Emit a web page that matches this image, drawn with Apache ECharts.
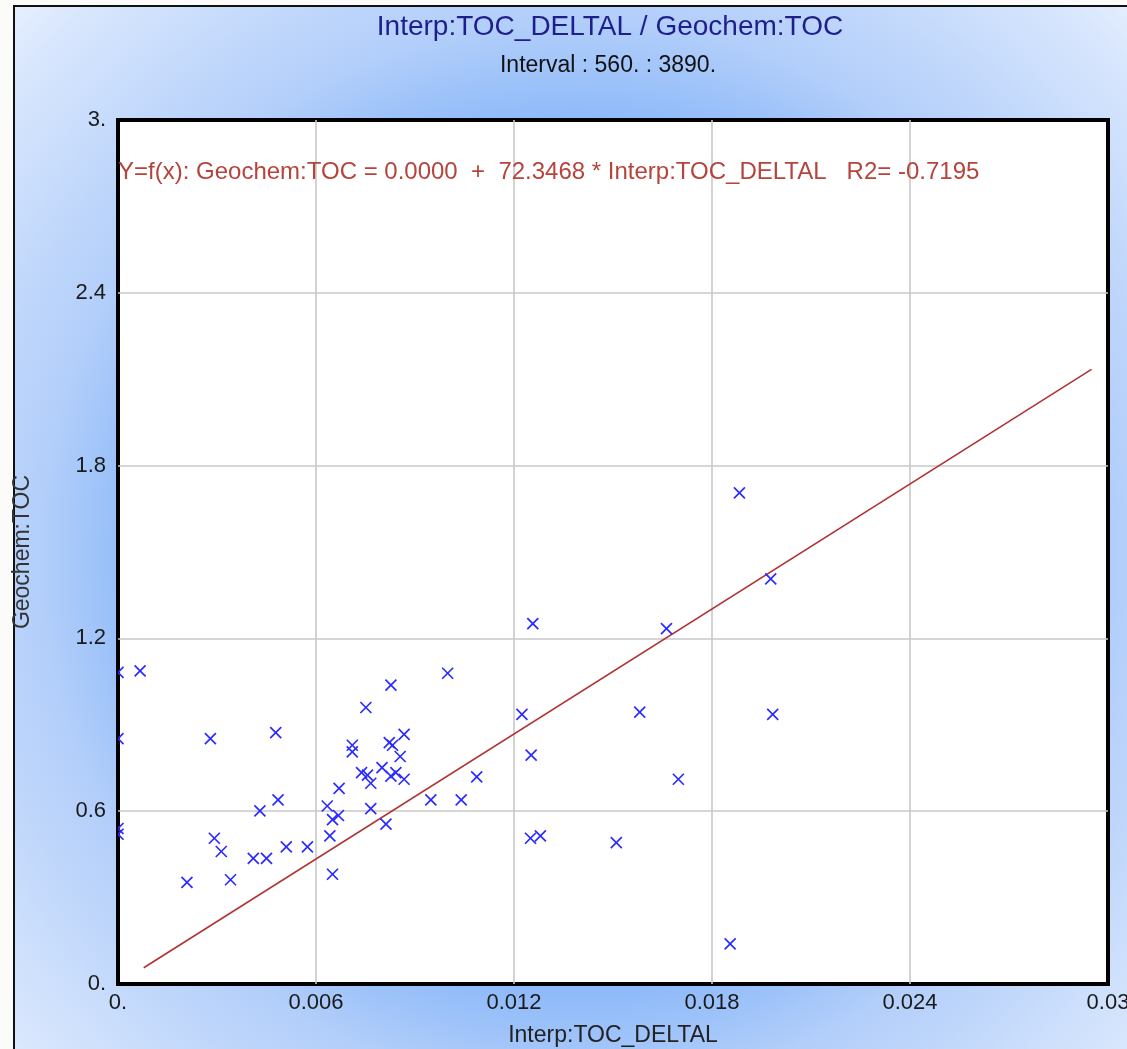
<!DOCTYPE html>
<html>
<head>
<meta charset="utf-8">
<title>Interp:TOC_DELTAL / Geochem:TOC</title>
<script src="https://cdn.jsdelivr.net/npm/echarts@6/dist/echarts.min.js"></script>
<style>
  html, body { margin: 0; padding: 0; background: #fbfbf9; }
  #chart { width: 1127px; height: 1049px; }
</style>
</head>
<body>
<div id="chart"></div>
<script>
// Cross-plot samples: Interp:TOC_DELTAL (x) against Geochem:TOC (y)
const tocDelta = [
  0, 0, 0, 0, 0.00067, 0.00209, 0.0028, 0.00292, 0.00313, 0.00341,
  0.0041, 0.0043, 0.0045, 0.00478, 0.00485, 0.0051, 0.00574, 0.00634, 0.00642, 0.0065,
  0.0065, 0.00668, 0.0067, 0.0071, 0.0071, 0.00738, 0.00751, 0.00756, 0.00766, 0.00766,
  0.008, 0.00812, 0.00822, 0.00827, 0.00827, 0.00832, 0.00842, 0.00855, 0.00867, 0.00867,
  0.00948, 0.00999, 0.0104, 0.01087, 0.01224, 0.0125, 0.01252, 0.01257, 0.0128, 0.0151,
  0.01581, 0.01662, 0.01698, 0.01855, 0.01883, 0.01978, 0.01984
];
const geochemToc = [
  1.082, 0.852, 0.540, 0.520, 1.087, 0.353, 0.852, 0.506, 0.460, 0.362,
  0.436, 0.601, 0.436, 0.873, 0.639, 0.476, 0.476, 0.618, 0.514, 0.571,
  0.381, 0.585, 0.679, 0.829, 0.806, 0.734, 0.960, 0.725, 0.697, 0.609,
  0.751, 0.555, 0.838, 1.038, 0.722, 0.829, 0.734, 0.790, 0.867, 0.711,
  0.639, 1.079, 0.639, 0.719, 0.936, 0.506, 0.795, 1.251, 0.514, 0.491,
  0.944, 1.234, 0.711, 0.139, 1.705, 1.407, 0.936
];

// Regression Y = intercept + slope * X, drawn over this X span
const fitIntercept = 0.0;
const fitSlope = 72.3468;
const fitR2 = -0.7195;
const fitXRange = [0.00078, 0.0295];

// Axis ticks
const xTickLabels = ['0.', '0.006', '0.012', '0.018', '0.024', '0.03'];
const yTickLabels = ['0.', '0.6', '1.2', '1.8', '2.4', '3.'];
const xStep = 0.006, yStep = 0.6;

const titleText = 'Interp:TOC_DELTAL / Geochem:TOC';
const subtitleText = 'Interval : 560. : 3890.';
const equationText = 'Y=f(x): Geochem:TOC = ' + fitIntercept.toFixed(4) + '  +  ' +
  fitSlope.toFixed(4) + ' * Interp:TOC_DELTAL   R2= ' + fitR2.toFixed(4);

const FONT = '"Liberation Sans", Arial, sans-serif';

const points = tocDelta.map((x, i) => [x, geochemToc[i]]);
const fitLine = fitXRange.map(x => [x, fitIntercept + fitSlope * x]);

const chart = echarts.init(document.getElementById('chart'), null, { renderer: 'canvas' });

const gridLines = {
  show: true, showMinLine: false, showMaxLine: false,
  lineStyle: { color: '#c8c8c8', width: 1.6 }
};

chart.setOption({
  animation: false,
  backgroundColor: '#fbfbf9',
  grid: {
    left: 118, right: 19, top: 120, bottom: 65,
    outerBoundsMode: 'none',
    containLabel: false,
    show: true,
    backgroundColor: '#ffffff',
    borderColor: '#000000',
    borderWidth: 4
  },
  xAxis: {
    type: 'value', min: 0, max: 0.03, interval: xStep,
    name: 'Interp:TOC_DELTAL', nameLocation: 'middle', nameGap: 40,
    nameTextStyle: { fontSize: 23, color: '#222', fontFamily: FONT },
    axisLine: { show: false }, axisTick: { show: false },
    axisLabel: {
      margin: 8, fontSize: 22, color: '#1a1a1a', fontFamily: FONT,
      formatter: v => xTickLabels[Math.round(v / xStep)]
    },
    splitLine: gridLines
  },
  yAxis: {
    type: 'value', min: 0, max: 3, interval: yStep,
    name: 'Geochem:TOC', nameLocation: 'middle', nameGap: 84,
    nameTextStyle: { fontSize: 23, color: '#333', fontFamily: FONT },
    axisLine: { show: false }, axisTick: { show: false },
    axisLabel: {
      margin: 12, fontSize: 22, color: '#1a1a1a', fontFamily: FONT,
      formatter: v => yTickLabels[Math.round(v / yStep)]
    },
    splitLine: gridLines
  },
  graphic: [
    {
      type: 'rect', z: -10, silent: true,
      shape: { x: 14, y: 6, width: 1200, height: 1100 },
      style: {
        fill: {
          type: 'radial', x: 0.47, y: 0.5, r: 0.76,
          colorStops: [
            { offset: 0, color: '#5a95fb' },
            { offset: 0.52, color: '#8ebaf9' },
            { offset: 0.64, color: '#b2cefa' },
            { offset: 0.88, color: '#d9e7fd' },
            { offset: 1, color: '#f2f7ff' }
          ]
        },
        stroke: '#111111', lineWidth: 2
      }
    },
    {
      type: 'text', z: 100, x: 610, y: 27,
      style: {
        text: titleText, fill: '#1f1f8c', font: '28px ' + FONT,
        textAlign: 'center', textVerticalAlign: 'middle'
      }
    },
    {
      type: 'text', z: 100, x: 608, y: 66,
      style: {
        text: subtitleText, fill: '#111111', font: '23px ' + FONT,
        textAlign: 'center', textVerticalAlign: 'middle'
      }
    },
    {
      type: 'text', z: 100, x: 118, y: 172,
      style: {
        text: equationText, fill: '#b5443c', font: '24px ' + FONT,
        textAlign: 'left', textVerticalAlign: 'middle'
      }
    }
  ],
  series: [
    {
      name: 'Fit', type: 'line', data: fitLine,
      showSymbol: false, clip: true, z: 3,
      lineStyle: { color: '#b03434', width: 1.6 }
    },
    {
      name: 'Samples', type: 'custom', data: points, clip: true, z: 4,
      encode: { x: 0, y: 1 },
      renderItem: (params, api) => {
        const p = api.coord([api.value(0), api.value(1)]);
        const h = 5.5;
        const st = { stroke: '#2b2bff', lineWidth: 1.7 };
        return {
          type: 'group',
          children: [
            { type: 'line', shape: { x1: p[0] - h, y1: p[1] - h, x2: p[0] + h, y2: p[1] + h }, style: st },
            { type: 'line', shape: { x1: p[0] + h, y1: p[1] - h, x2: p[0] - h, y2: p[1] + h }, style: st }
          ]
        };
      }
    }
  ]
});
</script>
</body>
</html>
